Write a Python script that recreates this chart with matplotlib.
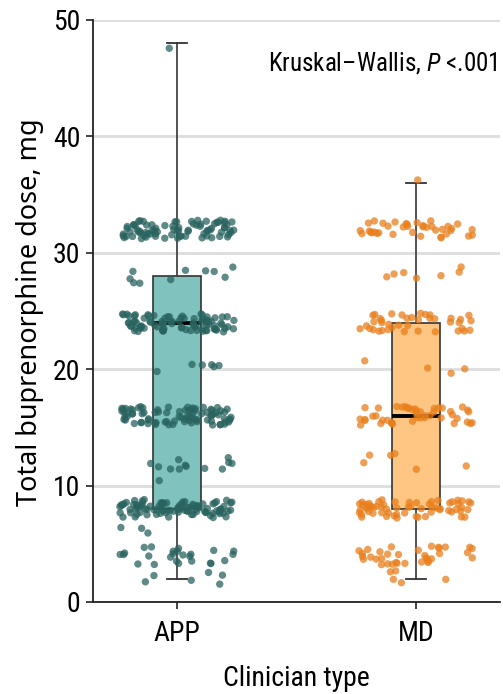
import numpy as np
import matplotlib
matplotlib.use('Agg')
from matplotlib import pyplot as plt

app_doses = [2, 4, 6, 8, 10, 12, 16, 20, 24, 28, 32, 48]
app_counts = [6, 25, 3, 95, 1, 12, 85, 6, 90, 10, 80, 1]
md_doses = [2, 4, 8, 12, 16, 20, 24, 28, 32, 36]
md_counts = [5, 35, 62, 6, 45, 4, 40, 7, 38, 1]

groups = ['APP', 'MD']
# box summary: lower whisker, Q1, median, Q3, upper whisker
whislo = [2, 2]
q1 = [8, 8]
med = [24, 16]
q3 = [28, 24]
whishi = [48, 36]

plt.rcParams['font.family'] = ['Roboto Condensed', 'DejaVu Sans']
plt.rcParams['mathtext.fontset'] = 'custom'
plt.rcParams['mathtext.rm'] = 'Roboto Condensed'
plt.rcParams['mathtext.it'] = 'Roboto Condensed:italic'

box_fill = ['#80c2be', '#fec682']
pt_col = ['#29635f', '#e97f1c']

# jitter only moves the dots sideways/up-down for display, like geom_jitter
rng = np.random.default_rng(7)

fig = plt.figure(figsize=(5.03, 6.94), dpi=100)
ax = fig.add_axes([93 / 503, 1 - 602 / 694, 407 / 503, 582 / 694])

stats = []
for k in range(2):
    stats.append(dict(whislo=whislo[k], q1=q1[k], med=med[k], q3=q3[k], whishi=whishi[k]))
bp = ax.bxp(stats, positions=[1, 2], widths=0.2, capwidths=0.085, showfliers=False,
            patch_artist=True,
            boxprops=dict(edgecolor='#333333', linewidth=1.2),
            whiskerprops=dict(color='#444444', linewidth=1.3),
            capprops=dict(color='#333333', linewidth=1.3),
            medianprops=dict(color='black', linewidth=2.8))
for patch, c in zip(bp['boxes'], box_fill):
    patch.set_facecolor(c)

for k, (doses, counts) in enumerate([(app_doses, app_counts), (md_doses, md_counts)]):
    y = np.repeat(doses, counts).astype(float)
    dx = rng.uniform(-0.24, 0.24, len(y))
    dy = rng.uniform(-0.8, 0.8, len(y))
    ax.scatter(k + 1 + dx, y + dy, s=28, color=pt_col[k], alpha=0.75,
               edgecolors='none', zorder=4)

ax.set_xlim(0.649, 2.352)
ax.set_ylim(0, 50)
ax.set_yticks([0, 10, 20, 30, 40, 50])
ax.set_xticks([1, 2])
ax.set_xticklabels(groups)
ax.yaxis.grid(True, color='#dddddd', linewidth=2)
ax.set_axisbelow(True)
for s in ['top', 'right']:
    ax.spines[s].set_visible(False)
for s in ['left', 'bottom']:
    ax.spines[s].set_color('#222222')
    ax.spines[s].set_linewidth(1.3)
ax.tick_params(axis='both', labelsize=20, length=5, width=1.2, color='#222222')
ax.tick_params(axis='y', pad=4)
ax.tick_params(axis='x', pad=8)
ax.set_xlabel('Clinician type', fontsize=20, labelpad=13)
fig.text(30.5 / 503, 1 - 312 / 694, 'Total buprenorphine dose, mg', rotation=90,
         ha='center', va='center', fontsize=19.5, family=['Noto Sans', 'DejaVu Sans'])
ax.text(0.995, 46.3, r'Kruskal–Wallis, $\it{P}$ <.001', transform=ax.get_yaxis_transform(),
        ha='right', va='center', fontsize=18)

fig.savefig('out.png', dpi=100)
